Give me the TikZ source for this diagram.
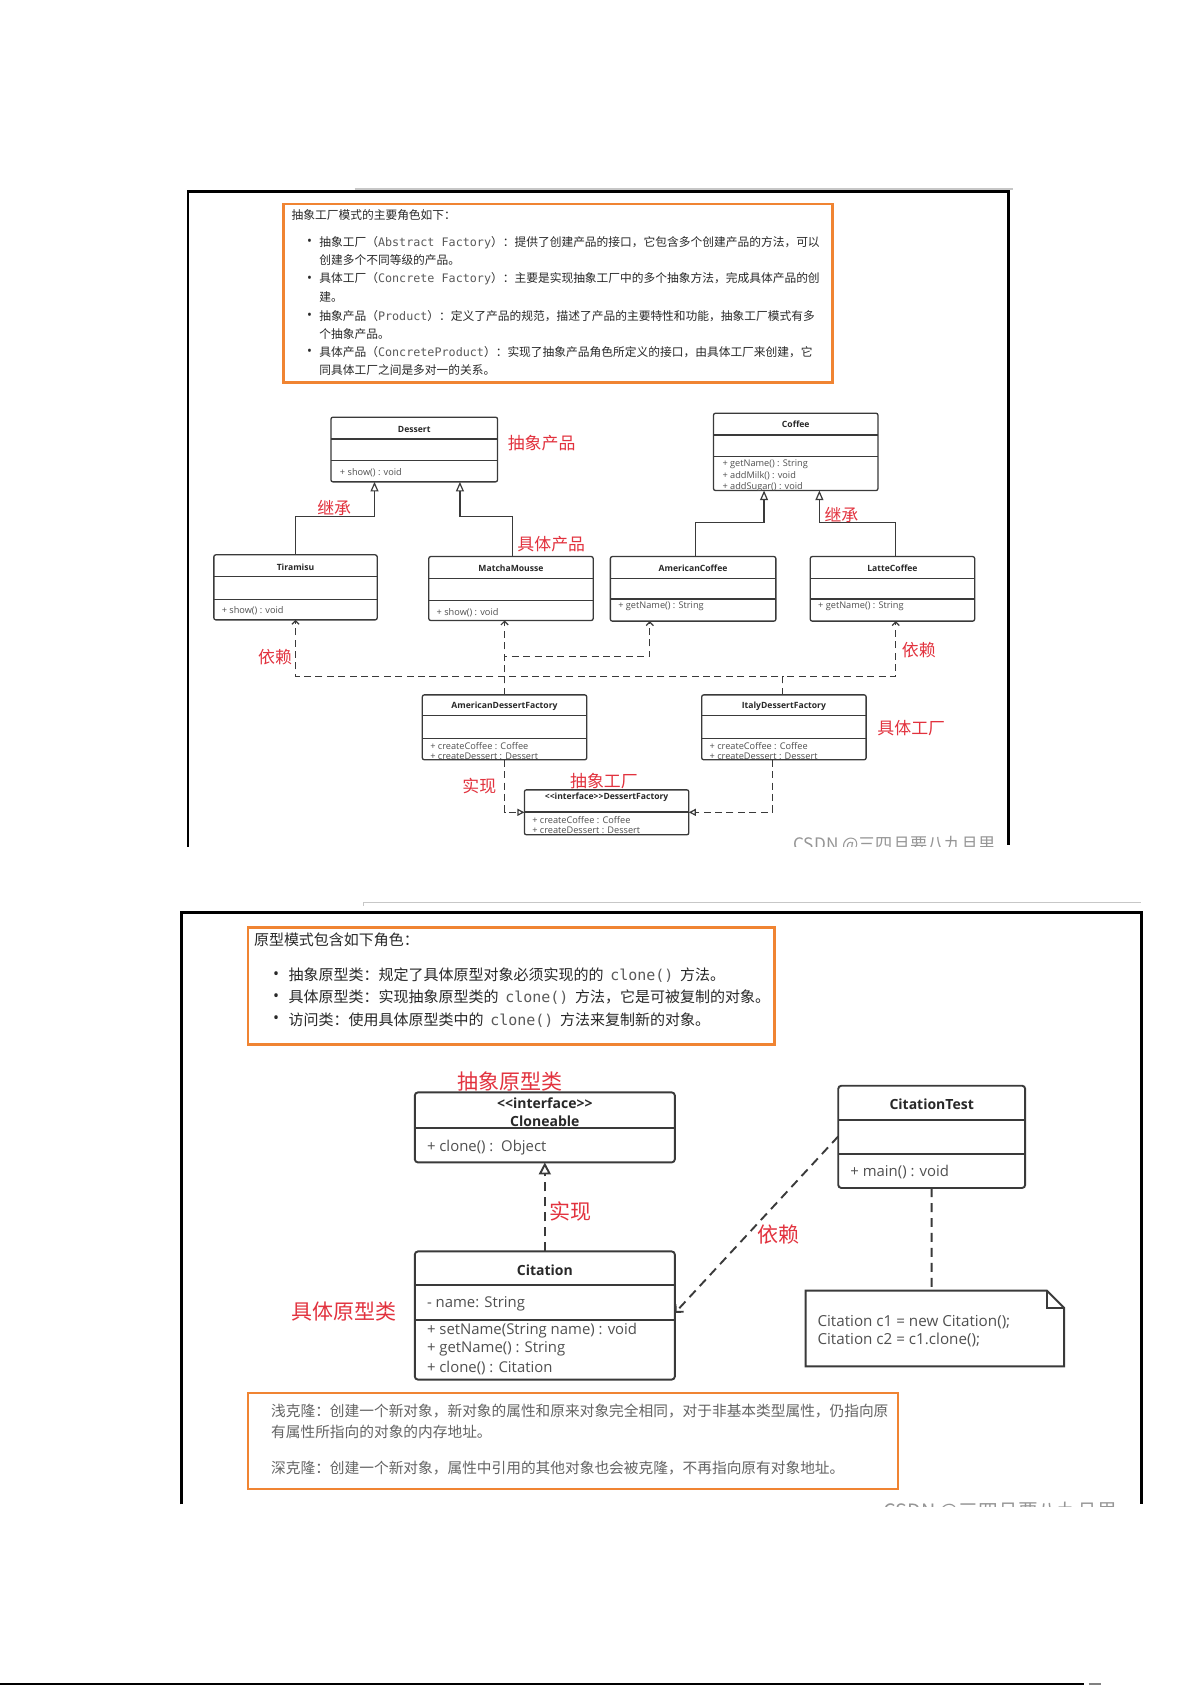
\documentclass[tikz,border=0pt]{standalone}
\usepackage{fontspec}
\newfontfamily\cjkf{Noto Sans CJK SC}
\newfontfamily\umlf{Open Sans}
\newfontfamily\monof{DejaVu Sans Mono}
\usetikzlibrary{arrows.meta}
\definecolor{orng}{RGB}{240,132,50}
\definecolor{lblred}{RGB}{226,50,62}
\definecolor{lnc}{RGB}{58,58,58}
\definecolor{txtc}{RGB}{40,40,40}
\definecolor{mthc}{RGB}{80,80,80}
\definecolor{monoc}{RGB}{90,90,90}
\definecolor{grayt}{RGB}{100,100,100}
\definecolor{wmc}{RGB}{150,150,150}
\def\U{0.53745pt}
\newcommand\mkbox[6]{\node[#1,minimum width={((#5)-(#3))*\U},minimum height={((#6)-(#4))*\U}] (#2) at ({((#3)+(#5))/2},{((#4)+(#6))/2}) {};}
\newcommand\sepl[3][]{\draw[sepline,#1] ([shift={(0,#3)}]#2.north west) -- ([shift={(0,#3)}]#2.north east);}
\begin{document}
\begin{tikzpicture}[x=0.53745pt,y=-0.53745pt,
  box1/.style={draw=lnc,line width=0.65pt,rounded corners=1pt,inner sep=0pt,outer sep=0pt},
  box2/.style={draw=lnc,line width=0.95pt,rounded corners=1.6pt,inner sep=0pt,outer sep=0pt},
  plainbox/.style={inner sep=0pt,outer sep=0pt},
  sepline/.style={draw=lnc,line width=0.65pt},
  ttl1/.style={font=\umlf\bfseries\fontsize{4.3pt}{5pt}\selectfont,text=txtc,inner sep=0pt},
  mth1/.style={font=\umlf\fontsize{4.6pt}{5pt}\selectfont,text=mthc,inner sep=0pt,anchor=west},
  ttl2/.style={font=\umlf\bfseries\fontsize{7pt}{8pt}\selectfont,text=txtc,inner sep=0pt},
  mth2/.style={font=\umlf\fontsize{7.45pt}{8.5pt}\selectfont,text=mthc,inner sep=0pt,anchor=west},
  notet/.style={font=\umlf\fontsize{7.6pt}{8.5pt}\selectfont,text=mthc,inner sep=0pt,anchor=west},
  lbl1/.style={font=\cjkf\fontsize{8.45pt}{9pt}\selectfont,text=lblred,inner sep=0pt},
  lbl2/.style={font=\cjkf\fontsize{10.5pt}{11pt}\selectfont,text=lblred,inner sep=0pt},
  list1/.style={font=\cjkf\fontsize{5.87pt}{7pt}\selectfont,text=txtc,inner sep=0pt,anchor=west},
  list2/.style={font=\cjkf\fontsize{7.5pt}{8.5pt}\selectfont,text=txtc,inner sep=0pt,anchor=west},
  list3/.style={font=\cjkf\fontsize{7.35pt}{8.5pt}\selectfont,text=grayt,inner sep=0pt,anchor=west},
  bul1/.style={font=\umlf\fontsize{6.5pt}{7pt}\selectfont,text=txtc,inner sep=0pt},
  bul2/.style={font=\umlf\fontsize{8pt}{8.5pt}\selectfont,text=txtc,inner sep=0pt},
  orbox/.style={draw=orng,line width=1.3pt,inner sep=0pt,outer sep=0pt},
  inh/.style={draw=lnc,line width=0.6pt,-{Triangle[open,length=4.8pt,width=4pt]}},
  dep1/.style={draw=lnc,line width=0.6pt,dash pattern=on 3.5pt off 2.2pt,-{Straight Barb[length=1.8pt,width=3.6pt]}},
  real1/.style={draw=lnc,line width=0.6pt,dash pattern=on 3.5pt off 2.2pt,-{Triangle[open,length=3.5pt,width=3.5pt]}},
  dep2/.style={draw=lnc,line width=0.95pt,dash pattern=on 4.5pt off 3pt,-{Straight Barb[length=2.8pt,width=5.6pt]}},
  real2/.style={draw=lnc,line width=0.95pt,dash pattern=on 4.5pt off 3pt,-{Triangle[open,length=6pt,width=6pt]}},
  link2/.style={draw=lnc,line width=0.95pt,dash pattern=on 4.5pt off 3pt},
  frame1/.style={draw=black,line width=1.4pt},
  frame2/.style={draw=black,line width=1.7pt},
  topline/.style={draw=black!22,line width=0.7pt},
  wm1/.style={font=\cjkf\fontsize{8.6pt}{9pt}\selectfont,text=wmc,inner sep=0pt},
  wm2/.style={font=\cjkf\fontsize{9.9pt}{10pt}\selectfont,text=wmc,inner sep=0pt}
]
\useasboundingbox (0,0) rectangle (1109,1568);
\fill[white] (0,0) rectangle (1109,1568);

%================ TOP PANEL =================
\draw[topline] (330,176) -- (943,176);
\draw[frame1] (175,788) -- (175,178.3) -- (938.8,178.3) -- (938.8,786);

\mkbox{orbox}{ob1}{263.6}{189.8}{774.7}{355.7}
\node[list1] (t0) at (271,200) {抽象工厂模式的主要角色如下：};
\node[bul1] (b1) at (288,225.4) {•};
\node[bul1] (b3) at (288,259.6) {•};
\node[bul1] (b5) at (288,294) {•};
\node[bul1] (b7) at (288,327.8) {•};
\node[list1] (t1) at (296.8,225.4) {抽象工厂（{\monof\color{monoc}Abstract Factory}）：提供了创建产品的接口，它包含多个创建产品的方法，可以};
\node[list1] (t2) at (296.8,241.9) {创建多个不同等级的产品。};
\node[list1] (t3) at (296.8,259.6) {具体工厂（{\monof\color{monoc}Concrete Factory}）：主要是实现抽象工厂中的多个抽象方法，完成具体产品的创};
\node[list1] (t4) at (296.8,276) {建。};
\node[list1] (t5) at (296.8,294) {抽象产品（{\monof\color{monoc}Product}）：定义了产品的规范，描述了产品的主要特性和功能，抽象工厂模式有多};
\node[list1] (t6) at (296.8,310.7) {个抽象产品。};
\node[list1] (t7) at (296.8,327.8) {具体产品（{\monof\color{monoc}ConcreteProduct}）：实现了抽象产品角色所定义的接口，由具体工厂来创建，它};
\node[list1] (t8) at (296.8,344.2) {同具体工厂之间是多对一的关系。};

% classes
\mkbox{box1}{dessert}{308}{388.2}{463}{448.4}
\sepl{dessert}{20.2}\sepl{dessert}{40.4}
\node[ttl1] (dessert-t) at ([shift={(0,11.2)}]dessert.north) {Dessert};
\node[mth1] (dessert-m) at ([shift={(8,51.5)}]dessert.north west) {+ show() : void};

\mkbox{box1}{coffee}{664}{384.5}{817}{456.5}
\sepl{coffee}{20.2}\sepl{coffee}{40.4}
\node[ttl1] (coffee-t) at ([shift={(0,10.5)}]coffee.north) {Coffee};
\node[mth1] (coffee-m1) at ([shift={(8,47.2)}]coffee.north west) {+ getName() : String};
\node[mth1] (coffee-m2) at ([shift={(8,58.3)}]coffee.north west) {+ addMilk() : void};
\begin{scope}
\clip (664,384.5) rectangle (817,456.3);
\node[mth1] (coffee-m3) at ([shift={(8,69.2)}]coffee.north west) {+ addSugar() : void};
\end{scope}

\mkbox{box1}{tira}{199}{516.3}{351}{576.8}
\sepl{tira}{20.2}\sepl{tira}{41.3}
\node[ttl1] (tira-t) at ([shift={(0,11.5)}]tira.north) {Tiramisu};
\node[mth1] (tira-m) at ([shift={(7,51.7)}]tira.north west) {+ show() : void};

\mkbox{box1}{matcha}{399}{517.9}{552}{577.4}
\sepl{matcha}{20.1}\sepl{matcha}{40.9}
\node[ttl1] (matcha-t) at ([shift={(0,11.3)}]matcha.north) {MatchaMousse};
\node[mth1] (matcha-m) at ([shift={(7,52.1)}]matcha.north west) {+ show() : void};

\mkbox{box1}{amcof}{568}{517.9}{722}{578}
\sepl{amcof}{20.1}\sepl{amcof}{39.6}
\node[ttl1] (amcof-t) at ([shift={(0,11.3)}]amcof.north) {AmericanCoffee};
\node[mth1] (amcof-m) at ([shift={(7,46.5)}]amcof.north west) {+ getName() : String};

\mkbox{box1}{latte}{754}{517.9}{907}{578}
\sepl{latte}{20.1}\sepl{latte}{39.6}
\node[ttl1] (latte-t) at ([shift={(0,11.3)}]latte.north) {LatteCoffee};
\node[mth1] (latte-m) at ([shift={(7,46.5)}]latte.north west) {+ getName() : String};

\mkbox{box1}{amdf}{393}{646.6}{546}{707}
\sepl{amdf}{19.4}\sepl{amdf}{40.3}
\node[ttl1] (amdf-t) at ([shift={(0,10.8)}]amdf.north) {AmericanDessertFactory};
\node[mth1] (amdf-m1) at ([shift={(7,47.4)}]amdf.north west) {+ createCoffee : Coffee};
\begin{scope}
\clip (393,646.6) rectangle (546,706.8);
\node[mth1] (amdf-m2) at ([shift={(7,57)}]amdf.north west) {+ createDessert : Dessert};
\end{scope}

\mkbox{box1}{italy}{653}{646.6}{806}{707}
\sepl{italy}{19.4}\sepl{italy}{40.3}
\node[ttl1] (italy-t) at ([shift={(0,10.8)}]italy.north) {ItalyDessertFactory};
\node[mth1] (italy-m1) at ([shift={(7,47.4)}]italy.north west) {+ createCoffee : Coffee};
\begin{scope}
\clip (653,646.6) rectangle (806,706.8);
\node[mth1] (italy-m2) at ([shift={(7,57)}]italy.north west) {+ createDessert : Dessert};
\end{scope}

\mkbox{box1}{dfac}{488}{735}{641}{776.8}
\sepl[line width=1pt]{dfac}{20.7}
\node[ttl1] (dfac-t) at ([shift={(0,7.3)}]dfac.north) {<{}<interface>{}>DessertFactory};
\node[mth1] (dfac-m1) at ([shift={(7,28.5)}]dfac.north west) {+ createCoffee : Coffee};
\begin{scope}
\clip (488,735) rectangle (641,776.6);
\node[mth1] (dfac-m2) at ([shift={(7,38)}]dfac.north west) {+ createDessert : Dessert};
\end{scope}

% inheritance
\draw[inh] (tira.north) -- ++(0,-35.6) -| ([shift={(-37,0)}]dessert.south);
\draw[inh] ([shift={(1.5,0)}]matcha.north) -- ++(0,-37) -| ([shift={(42.5,0)}]dessert.south);
\draw[inh] ([shift={(2,0)}]amcof.north) -- ++(0,-32) -| ([shift={(-29.5,0)}]coffee.south);
\draw[inh] ([shift={(3,0)}]latte.north) -- ++(0,-32) -| ([shift={(22,0)}]coffee.south);

% dependencies
\draw[dep1] ([shift={(-1,0)}]italy.north) -- ++(0,-17) -| (tira.south);
\draw[dep1] ([shift={(-1,0)}]italy.north) -- ++(0,-17) -| ([shift={(3,0)}]latte.south);
\draw[dep1] (amdf.north) -- ([shift={(-6,0)}]matcha.south);
\draw[dep1] (amdf.north) -- ++(0,-35.6) -| ([shift={(-40.3,0)}]amcof.south);

% realizations
\draw[real1] (amdf.south) |- (dfac.west);
\draw[real1] ([shift={(-11,0)}]italy.south) |- (dfac.east);

% red labels
\node[lbl1] (l-ap) at (504,412) {抽象产品};
\node[lbl1] (l-jc1) at (311,473) {继承};
\node[lbl1] (l-jt) at (513,506) {具体产品};
\node[lbl1] (l-jc2) at (783,479) {继承};
\node[lbl1] (l-yl1) at (256,611) {依赖};
\node[lbl1] (l-yl2) at (855,605) {依赖};
\node[lbl1] (l-jg) at (848,678) {具体工厂};
\node[lbl1] (l-ag) at (562,727) {抽象工厂};
\node[lbl1] (l-sx) at (446,731) {实现};

\begin{scope}
\clip (700,760) rectangle (936,788);
\node[wm1,anchor=base west] (wmk1) at (738,791) {CSDN @三四旦要八九旦里};
\end{scope}

%================ BOTTOM PANEL =================
\draw[topline] (338,843) -- (338,840) -- (1062,840);
\draw[frame2] (169,1400) -- (169,849) -- (1062,849) -- (1062,1400);

\mkbox{orbox}{ob2}{230.6}{863}{720.7}{972.2}
\node[list2] (s0) at (236,874.5) {原型模式包含如下角色：};
\node[bul2] (sb1) at (257,907.7) {•};
\node[bul2] (sb2) at (257,928.2) {•};
\node[bul2] (sb3) at (257,949) {•};
\node[list2] (s1) at (268.2,907.7) {抽象原型类：规定了具体原型对象必须实现的的\ \ {\monof\color{monoc}clone()}\ \ 方法。};
\node[list2] (s2) at (268.2,928.2) {具体原型类：实现抽象原型类的\ \ {\monof\color{monoc}clone()}\ \ 方法，它是可被复制的对象。};
\node[list2] (s3) at (268.2,949) {访问类：使用具体原型类中的\ \ {\monof\color{monoc}clone()}\ \ 方法来复制新的对象。};

\mkbox{box2}{clon}{386}{1016.5}{628}{1081.7}
\sepl[line width=0.95pt]{clon}{33.5}
\node[ttl2] (clon-t1) at ([shift={(0,10.5)}]clon.north) {<{}<interface>{}>};
\node[ttl2] (clon-t2) at ([shift={(0,27)}]clon.north) {Cloneable};
\node[mth2] (clon-m) at ([shift={(11,51.2)}]clon.north west) {+ clone() :\ \ Object};

\mkbox{box2}{ctest}{780}{1010.3}{954}{1105.5}
\sepl[line width=0.95pt]{ctest}{31.7}\sepl[line width=0.95pt]{ctest}{63.3}
\node[ttl2] (ctest-t) at ([shift={(0,17.1)}]ctest.north) {CitationTest};
\node[mth2] (ctest-m) at ([shift={(11,80.3)}]ctest.north west) {+ main() : void};

\mkbox{box2}{cit}{386}{1164.5}{628}{1283.8}
\sepl[line width=0.95pt]{cit}{31.5}\sepl[line width=0.95pt]{cit}{63.5}
\node[ttl2] (cit-t) at ([shift={(0,17.7)}]cit.north) {Citation};
\node[mth2] (cit-a) at ([shift={(11,49)}]cit.north west) {- name: String};
\node[mth2] (cit-m1) at ([shift={(11,73.5)}]cit.north west) {+ setName(String name) : void};
\node[mth2] (cit-m2) at ([shift={(11,90.2)}]cit.north west) {+ getName() : String};
\node[mth2] (cit-m3) at ([shift={(11,108.5)}]cit.north west) {+ clone() : Citation};

\mkbox{plainbox}{note}{749.7}{1201}{990.2}{1271.5}
\draw[draw=lnc,line width=0.95pt,line join=miter] (note.north west) -- ([shift={(-16,0)}]note.north east) -- ([shift={(0,16)}]note.north east) -- (note.south east) -- (note.south west) -- cycle;
\draw[draw=lnc,line width=0.95pt] ([shift={(-16,0)}]note.north east) -- ([shift={(-16,16)}]note.north east) -- ([shift={(0,16)}]note.north east);
\node[notet] (note-1) at ([shift={(10.7,29.2)}]note.north west) {Citation c1 = new Citation();};
\node[notet] (note-2) at ([shift={(10.7,46.2)}]note.north west) {Citation c2 = c1.clone();};

\draw[real2] (cit.north) -- (clon.south);
\draw[dep2] ([shift={(0,47.2)}]ctest.north west) -- ([shift={(0,57.3)}]cit.north east);
\draw[link2] (ctest.south) -- ([shift={(-3,0)}]note.north);

\node[lbl2] (l-ayx) at (475,1006) {抽象原型类};
\node[lbl2] (l-jyx) at (320,1220) {具体原型类};
\node[lbl2] (l-sx2) at (531,1127) {实现};
\node[lbl2] (l-yl3) at (724,1149) {依赖};

\mkbox{orbox}{ob3}{230.6}{1296.3}{835.6}{1385.5}
\node[list3] (q1) at (252,1313.3) {浅克隆：创建一个新对象，新对象的属性和原来对象完全相同，对于非基本类型属性，仍指向原};
\node[list3] (q2) at (252,1332.8) {有属性所指向的对象的内存地址。};
\node[list3] (q3) at (252,1366) {深克隆：创建一个新对象，属性中引用的其他对象也会被克隆，不再指向原有对象地址。};

\begin{scope}
\clip (800,1390) rectangle (1059,1401.5);
\node[wm2,anchor=base west] (wmk2) at (822,1413) {CSDN @三四旦要八九旦里};
\end{scope}

% page bottom rule
\draw[line width=1pt] (0,1567) -- (1009,1567);
\draw[line width=1pt,black!50] (1013,1567) -- (1025,1567);
\end{tikzpicture}
\end{document}
